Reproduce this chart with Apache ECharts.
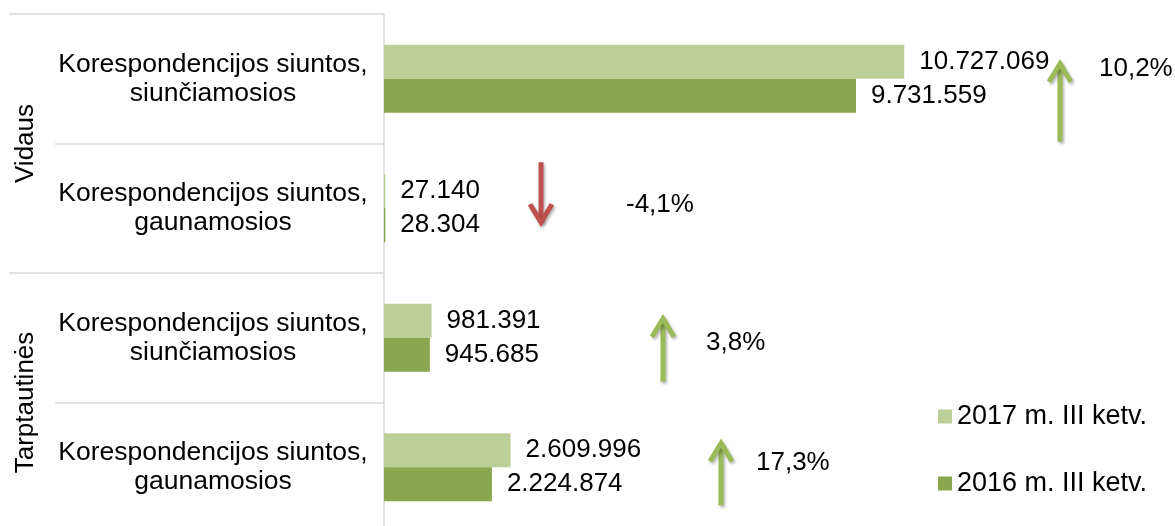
<!DOCTYPE html>
<html>
<head>
<meta charset="utf-8">
<title>Korespondencijos siuntos</title>
<script src="https://cdn.jsdelivr.net/npm/echarts@6/dist/echarts.min.js"></script>
<style>
  html, body { margin: 0; padding: 0; background: #fff; }
  #chart { width: 1175px; height: 526px; }
</style>
</head>
<body>
<div id="chart"></div>
<script>
// duomenys
const categories = [
  'Korespondencijos siuntos,\nsiunčiamosios',
  'Korespondencijos siuntos,\ngaunamosios',
  'Korespondencijos siuntos,\nsiunčiamosios',
  'Korespondencijos siuntos,\ngaunamosios'
];
const groups = ['Vidaus', 'Tarptautinės'];
const seriesNames = ['2017 m. III ketv.', '2016 m. III ketv.'];
const values2017 = [10727069, 27140, 981391, 2609996];
const values2016 = [9731559, 28304, 945685, 2224874];
const changeLabels = ['10,2%', '-4,1%', '3,8%', '17,3%'];
const changeUp = [true, false, true, true];

// rodyklių išdėstymas (px, nuo kategorijos centro)
const arrowLayout = [
  { x: 1060, from: 63, to: -20, textX: 1099, textDy: -10 },
  { x: 541, from: -46, to: 19, textX: 626, textDy: -3 },
  { x: 663, from: 44, to: -24, textX: 706, textDy: 5 },
  { x: 721, from: 38, to: -29, textX: 756, textDy: -4 }
];

const fontFamily = '"Liberation Sans", Arial, sans-serif';
const gridColor = '#d9d9d9';

function formatNumber (v) {
  return String(v).replace(/\B(?=(\d{3})+(?!\d))/g, '.');
}

const barLabel = {
  show: true,
  position: 'right',
  distance: 15,
  fontSize: 26,
  color: '#000',
  formatter: p => formatNumber(p.value)
};

function renderArrow (params, api) {
  const i = params.dataIndex;
  const c = api.coord([0, i]);
  const l = arrowLayout[i];
  const color = changeUp[i] ? '#9bbb59' : '#c0504d';
  const y0 = c[1] + l.from;
  const y1 = c[1] + l.to;
  const dir = y1 < y0 ? 1 : -1;
  const tip = y1 + dir * 5;
  const shadow = {
    shadowBlur: 3,
    shadowOffsetX: 1.5,
    shadowOffsetY: 2,
    shadowColor: 'rgba(0,0,0,0.3)'
  };
  return {
    type: 'group',
    children: [
      {
        type: 'line',
        shape: { x1: l.x, y1: y0, x2: l.x, y2: tip },
        style: Object.assign({ stroke: color, lineWidth: 5 }, shadow)
      },
      {
        type: 'polyline',
        shape: { points: [[l.x - 11, tip + dir * 18], [l.x, tip], [l.x + 11, tip + dir * 18]] },
        style: Object.assign({ stroke: color, fill: 'none', lineWidth: 5, lineJoin: 'miter' }, shadow)
      },
      {
        type: 'text',
        x: l.textX,
        y: c[1] + l.textDy,
        style: {
          text: changeLabels[i],
          fill: '#000',
          fontSize: 26,
          fontFamily: fontFamily,
          align: 'left',
          verticalAlign: 'middle'
        }
      }
    ]
  };
}

const chart = echarts.init(document.getElementById('chart'));
chart.setOption({
  animation: false,
  textStyle: { fontFamily: fontFamily },
  grid: { left: 384, right: 15, top: 14, height: 518, containLabel: false, outerBoundsMode: 'none' },
  legend: {
    data: seriesNames,
    orient: 'vertical',
    left: 933,
    top: 398,
    itemWidth: 14,
    itemHeight: 14,
    itemGap: 40,
    icon: 'rect',
    textStyle: { fontSize: 27, color: '#000', lineHeight: 25 }
  },
  xAxis: { type: 'value', min: 0, max: 16000000, show: false },
  yAxis: [
    {
      type: 'category',
      data: categories,
      inverse: true,
      position: 'left',
      axisLine: { lineStyle: { color: gridColor, width: 1.5 } },
      axisTick: { show: true, length: 329, lineStyle: { color: gridColor, width: 1.5 } },
      axisLabel: { align: 'center', margin: 171, fontSize: 26.5, lineHeight: 29, color: '#000' }
    },
    {
      type: 'category',
      data: groups,
      inverse: true,
      position: 'left',
      axisLine: { show: false },
      axisTick: { show: true, length: 375, lineStyle: { color: gridColor, width: 1.5 } },
      axisLabel: { rotate: 90, align: 'center', verticalAlign: 'middle', margin: 358, fontSize: 26, color: '#000' }
    }
  ],
  series: [
    {
      name: seriesNames[0],
      type: 'bar',
      data: values2017,
      barWidth: 34,
      barGap: '0%',
      itemStyle: { color: '#bbcf99' },
      label: barLabel
    },
    {
      name: seriesNames[1],
      type: 'bar',
      data: values2016,
      barWidth: 34,
      barGap: '0%',
      itemStyle: { color: '#8aa64f' },
      label: barLabel
    },
    {
      type: 'custom',
      yAxisIndex: 0,
      silent: true,
      data: changeLabels.map((_, i) => [0, i]),
      renderItem: renderArrow
    }
  ]
});
</script>
</body>
</html>
